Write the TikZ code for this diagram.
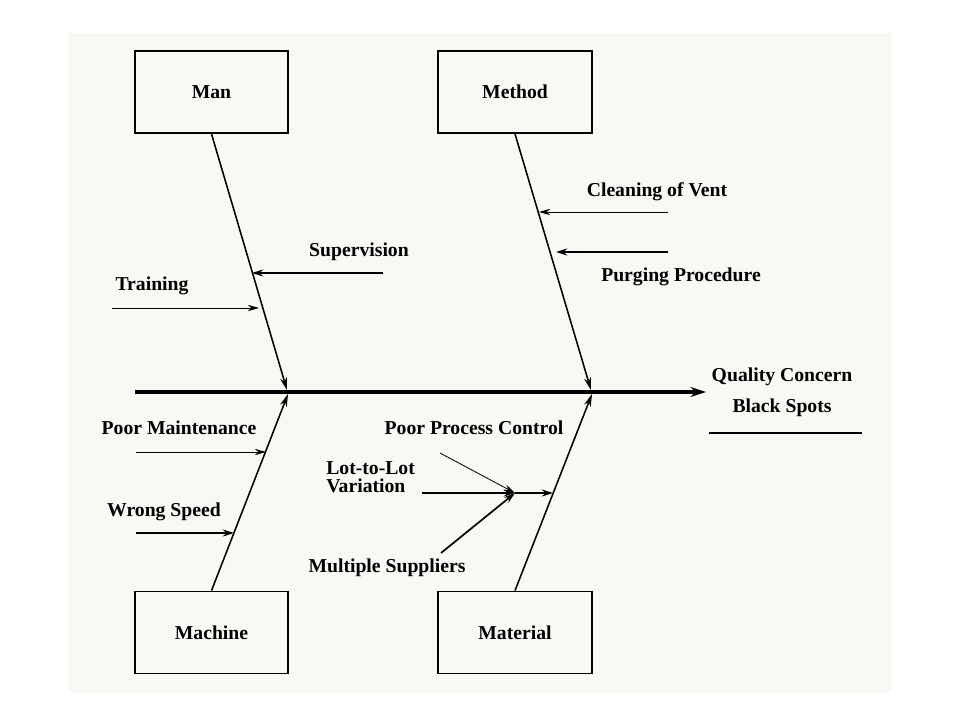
\documentclass[tikz,border=0pt]{standalone}
\usepackage{fontspec}
\setmainfont{Liberation Serif}
\usetikzlibrary{arrows.meta, positioning, calc}
\definecolor{PaperTint}{RGB}{247, 249, 245}

\begin{document}
\begin{tikzpicture}[x=0.025cm, y=-0.025cm]
        % --- Styles ---
        \tikzstyle{catbox}=[draw, line width=1.3pt, minimum width=3.83cm, minimum height=2.05cm, font=\bfseries\fontsize{14}{16}\selectfont]
        \tikzstyle{causelabel}=[font=\bfseries\fontsize{14}{16}\selectfont, align=left, inner sep=0pt]
        \tikzstyle{bone}=[-{Stealth[length=9pt, width=5pt]}, line width=1.1pt]
        \tikzstyle{thincause}=[-{Stealth[length=8pt, width=4.5pt]}, line width=0.6pt]
        \tikzstyle{thickcause}=[-{Stealth[length=8pt, width=5pt]}, line width=1.2pt]

        \useasboundingbox (0,0) rectangle (960,720);
        \fill[PaperTint] (68,33) rectangle (892,693);

        % --- 1. Category boxes ---
        \node[catbox] (man) at (211.5,92) {Man};
        \node[catbox] (method) at (515,92) {Method};
        \node[catbox] (machine) at (211.5,632.5) {Machine};
        \node[catbox] (material) at (515,632.5) {Material};

        % --- 2. Spine and effect ---
        \coordinate (tail) at (135,392);
        \coordinate (head) at (706,392);
        \draw[-{Stealth[length=11pt, width=7pt]}, line width=2.6pt] (tail) -- (head);
        \node[causelabel] (quality) at (782,377) {Quality Concern};
        \node[causelabel, below=0.78cm of quality.center, anchor=center] (spots) {Black Spots};
        \coordinate (ulineA) at (709,433);
        \coordinate (ulineB) at (862,433);
        \draw[line width=0.8pt] (ulineA) -- (ulineB);

        % --- 3. Main bones ---
        \coordinate (jmanA) at (287,390);
        \coordinate (jmanB) at (288,394);
        \coordinate (jmetA) at (591,390);
        \coordinate (jmetB) at (592,394);
        \draw[bone] (man.south) -- (jmanA);
        \draw[bone] (machine.north) -- (jmanB);
        \draw[bone] (method.south) -- (jmetA);
        \draw[bone] (material.north) -- (jmetB);

        % --- 4. Causes: Man ---
        \coordinate (supS) at (383,273);
        \coordinate (supT) at (252,273);
        \draw[thickcause] (supS) -- (supT);
        \node[causelabel] (supervision) at (359,252) {Supervision};
        \coordinate (trnS) at (112,308);
        \coordinate (trnT) at (259,308);
        \draw[thincause] (trnS) -- (trnT);
        \node[causelabel] (training) at (152,286) {Training};

        % --- 5. Causes: Method ---
        \coordinate (clnS) at (668,212);
        \coordinate (clnT) at (539,212);
        \draw[thincause] (clnS) -- (clnT);
        \node[causelabel] (cleaning) at (657,192) {Cleaning of Vent};
        \coordinate (prgS) at (668,252);
        \coordinate (prgT) at (556,252);
        \draw[thickcause] (prgS) -- (prgT);
        \node[causelabel] (purging) at (681,277) {Purging Procedure};

        % --- 6. Causes: Machine ---
        \coordinate (pmS) at (136,452);
        \coordinate (pmT) at (266,452);
        \draw[thincause] (pmS) -- (pmT);
        \node[causelabel] (maintenance) at (179,428) {Poor Maintenance};
        \coordinate (wsS) at (136,533);
        \coordinate (wsT) at (234,533);
        \draw[thickcause] (wsS) -- (wsT);
        \node[causelabel] (speed) at (164,512) {Wrong Speed};

        % --- 7. Causes: Material ---
        \coordinate (lotS) at (422,493);
        \coordinate (lotJ) at (515,493);
        \coordinate (lotT) at (553,493);
        \draw[thickcause] (lotS) -- (lotJ);
        \draw[thickcause] (lotJ) -- (lotT);
        \node[causelabel, anchor=west] (lot) at (326,477) {Lot-to-Lot\\[-3pt]Variation};
        \coordinate (ppcS) at (440,453);
        \draw[thincause] (ppcS) -- (lotJ);
        \node[causelabel] (control) at (474,428) {Poor Process Control};
        \coordinate (msS) at (441,553);
        \draw[thickcause] (msS) -- (lotJ);
        \node[causelabel] (suppliers) at (387,568) {Multiple Suppliers};

    \end{tikzpicture}
\end{document}
